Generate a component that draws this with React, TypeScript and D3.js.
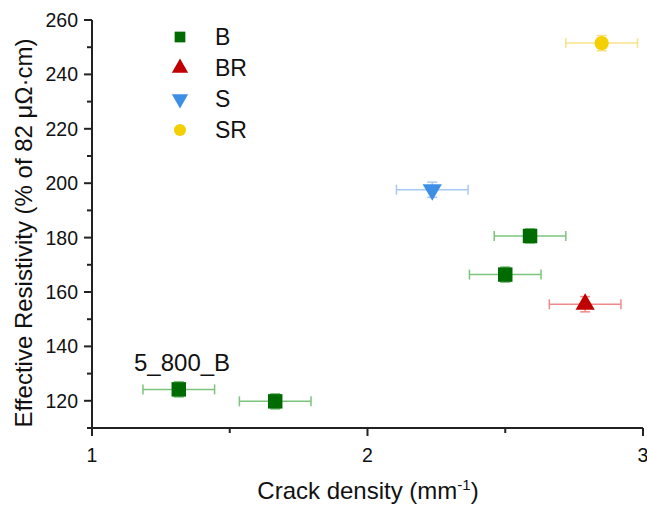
import React from "react";
import * as d3 from "d3";

const seriesNames = ["B", "BR", "S", "SR"];
const seriesColors = ["#006b00", "#c00000", "#3d8fe6", "#f5d000"];
const errColors = ["#7cc47c", "#f08a8a", "#a8c8f5", "#f8e28a"];
const symbols = [d3.symbolSquare, d3.symbolTriangle, "down", d3.symbolCircle];

const pointSeries = [0, 0, 0, 0, 1, 2, 3];
const crackDensity = [1.315, 1.665, 2.5, 2.59, 2.79, 2.235, 2.85];
const crackErr = [0.13, 0.13, 0.13, 0.13, 0.13, 0.13, 0.13];
const resistivity = [124.2, 119.8, 166.4, 180.6, 155.5, 197.6, 251.5];
const resErr = [2.8, 2.8, 2.8, 2.6, 2.8, 2.8, 2.8];

const xTicks = [1, 2, 3];
const xMinor = [1.5, 2.5];
const yTicks = [120, 140, 160, 180, 200, 220, 240, 260];
const yMinor = [110, 130, 150, 170, 190, 210, 230, 250];

const FONT = "'Liberation Sans', Arial, sans-serif";

function Marker({ si, x, y, size }: { si: number; x: number; y: number; size: number }) {
  const s = symbols[si];
  let path: string;
  let transform = `translate(${x},${y})`;
  if (s === "down") {
    path = d3.symbol(d3.symbolTriangle, size)()!;
    transform += " rotate(180)";
  } else {
    path = d3.symbol(s as d3.SymbolType, size)()!;
  }
  return <path d={path} transform={transform} fill={seriesColors[si]} />;
}

export default function App() {
  const W = 647, H = 507;
  const x = d3.scaleLinear().domain([1, 3]).range([92, 643]);
  const y = d3.scaleLinear().domain([110, 260]).range([428, 20]);
  const axisColor = "#222";

  return (
    <svg width={W} height={H} style={{ position: "absolute", left: 0, top: 0, background: "#fff" }}>
      {/* Axes */}
      <line x1={x(1)} x2={x(3)} y1={y(110)} y2={y(110)} stroke={axisColor} strokeWidth={2} />
      <line x1={x(1)} x2={x(1)} y1={y(110) + 1} y2={y(260)} stroke={axisColor} strokeWidth={2} />
      {xTicks.map((t) => (
        <g key={"xt" + t}>
          <line x1={x(t)} x2={x(t)} y1={y(110)} y2={y(110) + 8} stroke={axisColor} strokeWidth={2} />
          <text x={x(t)} y={y(110) + 34} textAnchor="middle" fontFamily={FONT} fontSize={19.5} fill="#111">
            {t}
          </text>
        </g>
      ))}
      {xMinor.map((t) => (
        <line key={"xm" + t} x1={x(t)} x2={x(t)} y1={y(110)} y2={y(110) + 5} stroke={axisColor} strokeWidth={2} />
      ))}
      {yTicks.map((t) => (
        <g key={"yt" + t}>
          <line x1={x(1) - 8} x2={x(1)} y1={y(t)} y2={y(t)} stroke={axisColor} strokeWidth={2} />
          <text x={x(1) - 14} y={y(t) + 7} textAnchor="end" fontFamily={FONT} fontSize={19.5} fill="#111">
            {t}
          </text>
        </g>
      ))}
      {yMinor.map((t) => (
        <line key={"ym" + t} x1={x(1) - 5} x2={x(1)} y1={y(t)} y2={y(t)} stroke={axisColor} strokeWidth={2} />
      ))}

      {/* Axis titles */}
      <text x={368} y={499} textAnchor="middle" fontFamily={FONT} fontSize={24} fill="#111">
        Crack density (mm<tspan dy={-9} fontSize={15}>-1</tspan>
        <tspan dy={9}>)</tspan>
      </text>
      <text
        transform={`translate(32,${233}) rotate(-90)`}
        textAnchor="middle"
        fontFamily={FONT}
        fontSize={24}
        fill="#111"
      >
        Effective Resistivity (% of 82 μΩ·cm)
      </text>

      {/* Error bars */}
      {crackDensity.map((cx, i) => {
        const si = pointSeries[i];
        const c = errColors[si];
        const px = x(cx), py = y(resistivity[i]);
        const xl = x(cx - crackErr[i]), xr = x(cx + crackErr[i]);
        const yt = y(resistivity[i] + resErr[i]), yb = y(resistivity[i] - resErr[i]);
        return (
          <g key={"e" + i} stroke={c} strokeWidth={1.5}>
            <line x1={xl} x2={xr} y1={py} y2={py} />
            <line x1={xl} x2={xl} y1={py - 5} y2={py + 5} />
            <line x1={xr} x2={xr} y1={py - 5} y2={py + 5} />
            <line x1={px} x2={px} y1={yt} y2={yb} />
            <line x1={px - 5} x2={px + 5} y1={yt} y2={yt} />
            <line x1={px - 5} x2={px + 5} y1={yb} y2={yb} />
          </g>
        );
      })}

      {/* Markers */}
      {crackDensity.map((cx, i) => {
        const si = pointSeries[i];
        const size = si === 0 ? 210 : si === 3 ? 160 : 160;
        return <Marker key={"m" + i} si={si} x={x(cx)} y={y(resistivity[i])} size={size} />;
      })}

      {/* Annotation */}
      <text x={134} y={371} fontFamily={FONT} fontSize={24} fill="#111">
        5_800_B
      </text>

      {/* Legend */}
      {seriesNames.map((n, i) => {
        const ly = 37 + i * 31;
        return (
          <g key={"l" + n}>
            <Marker si={i} x={180} y={ly} size={115} />
            <text x={215} y={ly + 8} fontFamily={FONT} fontSize={23} fill="#111">
              {n}
            </text>
          </g>
        );
      })}
    </svg>
  );
}
